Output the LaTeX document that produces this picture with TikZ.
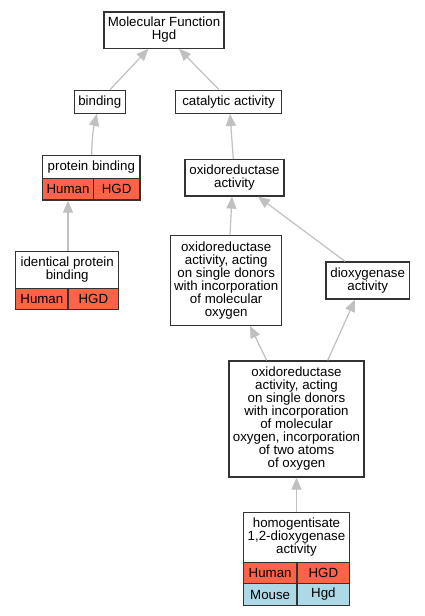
\documentclass[tikz,border=0pt]{standalone}
\usepackage{fontspec}
\setmainfont{Liberation Sans}
\usetikzlibrary{arrows.meta,calc}
\definecolor{humanred}{HTML}{FF6347}
\definecolor{mouseblue}{HTML}{ADD8E6}
\definecolor{edgegray}{HTML}{C0C0C0}
\definecolor{boxgray}{HTML}{333333}
\begin{document}
\begin{tikzpicture}[x=1pt,y=1pt,
  box/.style={draw=boxgray,line width=1.3pt,fill=white,inner sep=0pt,align=center,
    font=\fontsize{13.3}{13}\selectfont},
  cell/.style={box},
  edge/.style={draw=edgegray,line width=1.2pt,-{Triangle[length=12pt,width=10pt]}}]
\useasboundingbox (0,0) rectangle (425,-616);
\fill[white] (0,0) rectangle (425,-616);
% nodes
\node[box,minimum width=120pt,minimum height=36.3pt] (mf) at (164,-30) {Molecular Function\\Hgd};
\node[box,minimum width=51pt,minimum height=23pt] (bind) at (99.8,-101.8) {binding};
\node[box,minimum width=105.6pt,minimum height=23pt] (cat) at (228.5,-101.8) {catalytic activity};
\node[box,minimum width=97.3pt,minimum height=23pt] (pb) at (91.35,-167.2) {protein binding};
\node[cell,fill=humanred,minimum width=50.6pt,minimum height=21.3pt] (pbh) at (68,-189.35) {Human};
\node[cell,fill=humanred,minimum width=46.7pt,minimum height=21.3pt] (pbg) at (116.65,-189.35) {HGD};
\node[box,minimum width=99pt,minimum height=36.3pt] (ox) at (234.5,-177.8) {oxidoreductase\\activity};
\node[box,minimum width=103pt,minimum height=36.6pt] (ipb) at (67.2,-270) {identical protein\\binding};
\node[cell,fill=humanred,minimum width=52.3pt,minimum height=21pt] (ipbh) at (41.85,-298.8) {Human};
\node[cell,fill=humanred,minimum width=50.7pt,minimum height=21pt] (ipbg) at (93.35,-298.8) {HGD};
\node[box,minimum width=111pt,minimum height=89.6pt] (oxs) at (226.2,-280.5) {oxidoreductase\\activity, acting\\on single donors\\with incorporation\\of molecular\\oxygen};
\node[box,minimum width=83.3pt,minimum height=37pt] (diox) at (367.7,-280.5) {dioxygenase\\activity};
\node[box,minimum width=135pt,minimum height=116pt] (big) at (296.5,-419) {oxidoreductase\\activity, acting\\on single donors\\with incorporation\\of molecular\\oxygen, incorporation\\of two atoms\\of oxygen};
\node[box,minimum width=106.4pt,minimum height=49.6pt] (hg) at (296.5,-537.5) {homogentisate\\1,2-dioxygenase\\activity};
\node[cell,fill=humanred,minimum width=53.7pt,minimum height=21.4pt] (hgh) at (270.15,-573) {Human};
\node[cell,fill=humanred,minimum width=52.7pt,minimum height=21.4pt] (hgg) at (323.35,-573) {HGD};
\node[cell,fill=mouseblue,minimum width=53.7pt,minimum height=21.6pt] (hgm) at (270.15,-594.5) {Mouse};
\node[cell,fill=mouseblue,minimum width=52.7pt,minimum height=21.6pt] (hgd) at (323.35,-594.5) {Hgd};
% edges
\draw[edge] ([xshift=10.2pt]bind.north) -- ([xshift=-15.5pt]mf.south);
\draw[edge] ([xshift=-9.5pt]cat.north) -- ([xshift=15pt]mf.south);
\draw[edge] ([xshift=0.3pt]pb.north) to[bend left=6] ([xshift=-3pt]bind.south);
\draw[edge] ([xshift=-1.2pt]ox.north) -- ([xshift=1.5pt]cat.south);
\draw[edge] ([xshift=0.8pt]ipb.north) -- (pbh.south);
\draw[edge] ([xshift=3.8pt]oxs.north) -- ([xshift=-2.5pt]ox.south);
\draw[edge] ([xshift=-22.7pt]diox.north) -- ([xshift=23.5pt]ox.south);
\draw[edge] ([xshift=-29.8pt]big.north) -- ([xshift=23.8pt]oxs.south);
\draw[edge] ([xshift=31.2pt]big.north) -- ([xshift=-12.7pt]diox.south);
\draw[edge] (hg.north) -- (big.south);
\end{tikzpicture}
\end{document}
